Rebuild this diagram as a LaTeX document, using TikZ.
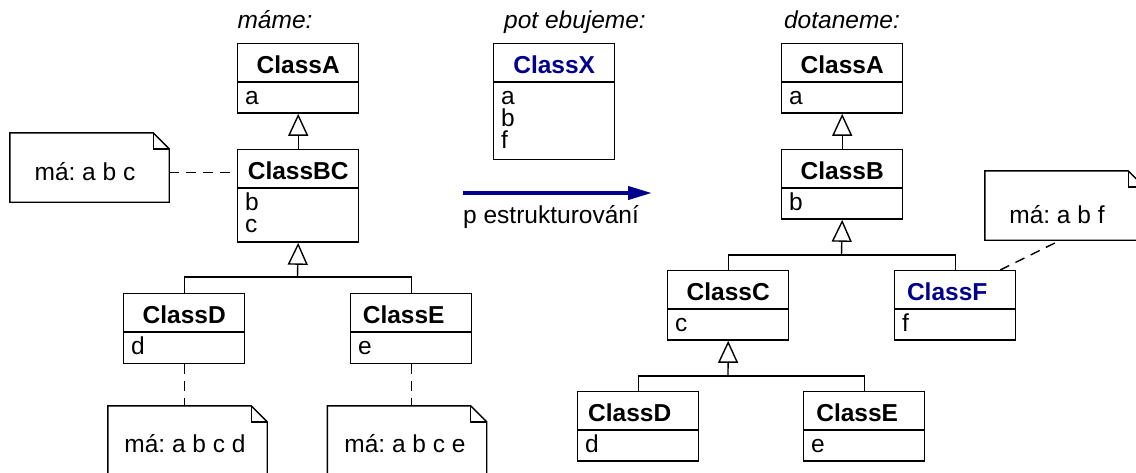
\documentclass[tikz,border=0pt]{standalone}
\usepackage{fontspec}
\setmainfont{Liberation Sans}
\usetikzlibrary{arrows.meta}
\definecolor{navy}{RGB}{0,0,140}
\frenchspacing
\tikzset{
  ln/.style={line width=1.4pt, black},
  hdr/.style={ln, draw, rectangle, minimum width=121pt, minimum height=37.5pt, inner sep=0pt,
    text height=23pt, text depth=0pt, font=\bfseries\fontsize{24.5}{22}\selectfont},
  attrb/.style={ln, draw, rectangle, minimum width=121pt, inner sep=0pt},
  atxt/.style={anchor=base west, inner sep=0pt, font=\fontsize{24.5}{22}\selectfont},
  ttl/.style={anchor=base, inner sep=0pt, font=\itshape\fontsize{24.5}{22}\selectfont},
  note/.style={minimum width=159pt, minimum height=69pt, inner sep=0pt, text depth=0pt,
    font=\fontsize{24.5}{22}\selectfont},
  gen/.style={ln, -{Triangle[open, length=22pt, width=20pt]}},
  dsh/.style={ln, dash pattern=on 10pt off 7pt},
  bigarrow/.style={draw=navy, line width=4pt, -{Triangle[length=24pt, width=13pt, fill=navy]}},
}
\newcommand\umlclass[7]{%
  \node[hdr, text=#7, anchor=north west] (#1h) at (#2,#3) {#5\hspace*{#6}};
  \node[attrb, minimum height=#4, anchor=north] (#1a) at (#1h.south) {};
}
\newcommand\noteshape[1]{%
  \draw[ln] (#1.north west) -- ([xshift=-16pt]#1.north east) -- ([yshift=-16pt]#1.north east)
    -- (#1.south east) -- (#1.south west) -- cycle;
  \draw[ln] ([xshift=-16pt]#1.north east) |- ([yshift=-16pt]#1.north east);
}
\begin{document}
\begin{tikzpicture}[x=1pt, y=-1pt]
\useasboundingbox (0,0) rectangle (1136,472);
\clip (0,0) rectangle (1136,472);

% titles
\node[ttl] (t1) at (275,28) {máme:};
\node[ttl] (t2) at (575,28) {pot ebujeme:};
\node[ttl] (t3) at (842,28) {dotaneme:};

% ---------- left tree ----------
\umlclass{LA}{237}{43}{30.5pt}{ClassA}{0pt}{black}
\node[atxt] (LAt1) at ([xshift=8pt,yshift=-23pt]LAa.north west) {a};
\umlclass{BC}{237}{149}{53.5pt}{ClassBC}{0pt}{black}
\node[atxt] (BCt1) at ([xshift=8pt,yshift=-23pt]BCa.north west) {b};
\node[atxt] (BCt2) at ([xshift=8pt,yshift=-45pt]BCa.north west) {c};
\umlclass{LD}{123}{293}{31pt}{ClassD}{0pt}{black}
\node[atxt] (LDt1) at ([xshift=8pt,yshift=-23pt]LDa.north west) {d};
\umlclass{LE}{350}{293}{31pt}{ClassE}{15pt}{black}
\node[atxt] (LEt1) at ([xshift=8pt,yshift=-23pt]LEa.north west) {e};

\draw[gen] (BCh.north) -- (LAa.south);
\coordinate (jL) at (297.5,277);
\draw[ln] (LDh.north) |- (jL) -| (LEh.north);
\draw[gen] (jL) -- (BCa.south);

% notes left
\node[note, text height=25pt] (n1) at (89.5,167.5) {má: a b c\hspace*{9pt}};
\noteshape{n1}
\coordinate (n1c) at ([yshift=-5pt]n1.east);
\draw[dsh] (n1c) -- (n1c -| BCh.west);

\node[note, text height=24pt] (nD) at (187.5,440.5) {má: a b c d\hspace*{5pt}};
\noteshape{nD}
\draw[dsh] (LDa.south) -- (LDa.south |- nD.north);

\node[note, text height=24pt] (nE) at (407,440.5) {má: a b c e\hspace*{4pt}};
\noteshape{nE}
\draw[dsh] (LEa.south) -- (LEa.south |- nE.north);

% ---------- middle ----------
\umlclass{X}{493}{43}{77pt}{ClassX}{0pt}{navy}
\node[atxt] (Xt1) at ([xshift=8pt,yshift=-23pt]Xa.north west) {a};
\node[atxt] (Xt2) at ([xshift=8pt,yshift=-45pt]Xa.north west) {b};
\node[atxt] (Xt3) at ([xshift=8pt,yshift=-67pt]Xa.north west) {f};

\coordinate (arS) at (463,193);
\coordinate (arE) at (652,193);
\draw[bigarrow] (arS) -- (arE);
\node[atxt] (arL) at (463,223) {p estrukturování};

% ---------- right tree ----------
\umlclass{RA}{781}{43}{30.5pt}{ClassA}{0pt}{black}
\node[atxt] (RAt1) at ([xshift=8pt,yshift=-23pt]RAa.north west) {a};
\umlclass{RB}{781}{149}{30.5pt}{ClassB}{0pt}{black}
\node[atxt] (RBt1) at ([xshift=8pt,yshift=-23pt]RBa.north west) {b};
\umlclass{RC}{667}{270}{30.5pt}{ClassC}{0pt}{black}
\node[atxt] (RCt1) at ([xshift=8pt,yshift=-23pt]RCa.north west) {c};
\umlclass{RF}{894}{270}{30.5pt}{ClassF}{16pt}{navy}
\node[atxt] (RFt1) at ([xshift=8pt,yshift=-23pt]RFa.north west) {f};
\umlclass{RD}{577}{391}{30.5pt}{ClassD}{17pt}{black}
\node[atxt] (RDt1) at ([xshift=8pt,yshift=-23pt]RDa.north west) {d};
\umlclass{RE}{803}{391}{30.5pt}{ClassE}{14pt}{black}
\node[atxt] (REt1) at ([xshift=8pt,yshift=-23pt]REa.north west) {e};

\draw[gen] (RBh.north) -- (RAa.south);
\coordinate (jR1) at (841.5,255);
\draw[ln] (RCh.north) |- (jR1) -| (RFh.north);
\draw[gen] (jR1) -- (RBa.south);
\coordinate (jR2) at (728,376);
\draw[ln] (RDh.north) |- (jR2) -| (REh.north);
\draw[gen] (jR2) -- (RCa.south);

\node[note, text height=35pt] (nF) at (1064.5,205.5) {má: a b f\hspace*{15pt}};
\noteshape{nF}
\coordinate (fA) at ([xshift=45pt]RFh.north);
\coordinate (fB) at ([xshift=-4pt]nF.south);
\draw[dsh] (fA) -- (fB);
\end{tikzpicture}
\end{document}
